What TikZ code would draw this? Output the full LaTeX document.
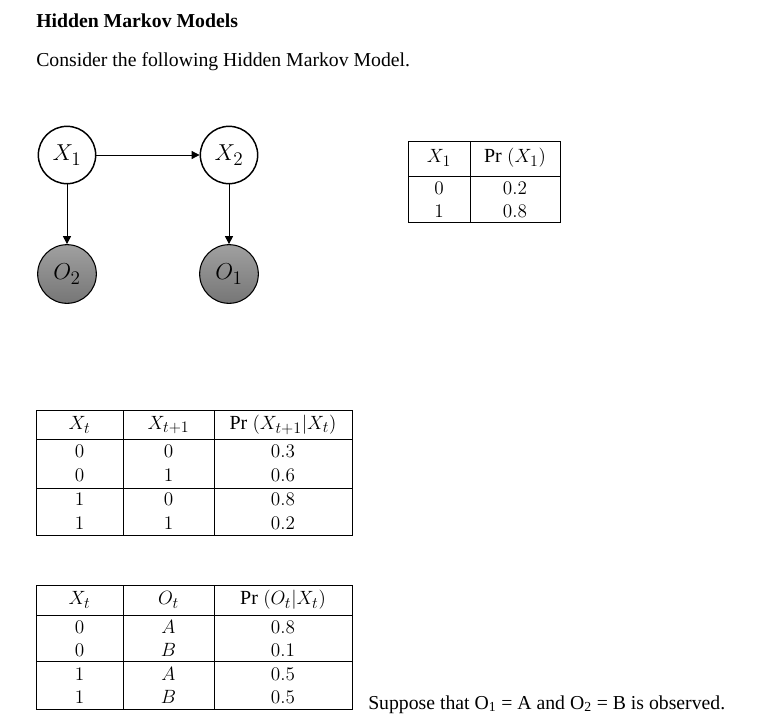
\documentclass[tikz,border=0pt]{standalone}
\usepackage{fontspec}
\setmainfont{Liberation Serif}
\usetikzlibrary{arrows.meta}
\DeclareMathSizes{15}{15}{12.5}{10}
\DeclareMathSizes{17}{17}{14}{11}
\begin{document}
\begin{tikzpicture}[x=0.75pt,y=-0.75pt,
  hidden/.style={circle,draw,line width=1.1pt,fill=white,minimum size=43pt,inner sep=0pt,font=\fontsize{17}{19}\selectfont},
  observed/.style={circle,draw,line width=0.8pt,top color={rgb,255:red,160;green,160;blue,160},bottom color={rgb,255:red,118;green,118;blue,118},minimum size=44pt,inner sep=0pt,font=\fontsize{17}{19}\selectfont},
  edge/.style={-{Triangle[length=6pt,width=6pt]},line width=0.6pt},
  tline/.style={line width=0.75pt},
  cell/.style={inner sep=0pt,font=\fontsize{15}{17}\selectfont},
  txt/.style={inner sep=0pt,anchor=base west,font=\fontsize{14.8}{17}\selectfont}]
\useasboundingbox (0,0) rectangle (774,722);
% heading
\node[txt,font=\fontsize{14.8}{17}\selectfont\bfseries] (title) at (36,27) {Hidden Markov Models};
\node[txt] (intro) at (36,66) {Consider the following Hidden Markov Model.};
% graph
\node[hidden] (x1) at (67,155) {$X_1$};
\node[hidden] (x2) at (229,155) {$X_2$};
\node[observed] (o2) at (67,274) {$O_2$};
\node[observed] (o1) at (229,274) {$O_1$};
\draw[edge] (x1) -- (x2);
\draw[edge] (x1) -- (o2);
\draw[edge] (x2) -- (o1);
% table 1
\draw[tline] (408,141) rectangle (560,222);
\draw[tline] (408,176) -- (560,176);
\draw[tline] (470,141) -- (470,222);
\node[cell] (t1h1) at (439,158) {$X_1$};
\node[cell] (t1h2) at (515,158) {$\mathrm{Pr}\;(X_1)$};
\node[cell] (t1a1) at (439,188) {$0$};
\node[cell] (t1a2) at (515,188) {$0.2$};
\node[cell] (t1b1) at (439,211) {$1$};
\node[cell] (t1b2) at (515,211) {$0.8$};
% table 2
\draw[tline] (36,410) rectangle (352,535);
\draw[tline] (36,439) -- (352,439);
\draw[tline] (36,488) -- (352,488);
\draw[tline] (123,410) -- (123,535);
\draw[tline] (214,410) -- (214,535);
\node[cell] (t2h1) at (79.5,425) {$X_t$};
\node[cell] (t2h2) at (168.5,425) {$X_{t+1}$};
\node[cell] (t2h3) at (283,425) {$\mathrm{Pr}\;(X_{t+1}|X_t)$};
\node[cell] (t2a1) at (79.5,451) {$0$};
\node[cell] (t2a2) at (168.5,451) {$0$};
\node[cell] (t2a3) at (283,451) {$0.3$};
\node[cell] (t2b1) at (79.5,475) {$0$};
\node[cell] (t2b2) at (168.5,475) {$1$};
\node[cell] (t2b3) at (283,475) {$0.6$};
\node[cell] (t2c1) at (79.5,499) {$1$};
\node[cell] (t2c2) at (168.5,499) {$0$};
\node[cell] (t2c3) at (283,499) {$0.8$};
\node[cell] (t2d1) at (79.5,523) {$1$};
\node[cell] (t2d2) at (168.5,523) {$1$};
\node[cell] (t2d3) at (283,523) {$0.2$};
% table 3
\draw[tline] (36,585) rectangle (352,709);
\draw[tline] (36,615) -- (352,615);
\draw[tline] (36,661) -- (352,661);
\draw[tline] (123,585) -- (123,709);
\draw[tline] (214,585) -- (214,709);
\node[cell] (t3h1) at (79.5,600) {$X_t$};
\node[cell] (t3h2) at (168.5,600) {$O_t$};
\node[cell] (t3h3) at (283,600) {$\mathrm{Pr}\;(O_t|X_t)$};
\node[cell] (t3a1) at (79.5,627) {$0$};
\node[cell] (t3a2) at (168.5,627) {$A$};
\node[cell] (t3a3) at (283,627) {$0.8$};
\node[cell] (t3b1) at (79.5,650) {$0$};
\node[cell] (t3b2) at (168.5,650) {$B$};
\node[cell] (t3b3) at (283,650) {$0.1$};
\node[cell] (t3c1) at (79.5,674) {$1$};
\node[cell] (t3c2) at (168.5,674) {$A$};
\node[cell] (t3c3) at (283,674) {$0.5$};
\node[cell] (t3d1) at (79.5,697) {$1$};
\node[cell] (t3d2) at (168.5,697) {$B$};
\node[cell] (t3d3) at (283,697) {$0.5$};
% final sentence
\node[txt] (obs) at (368,709) {Suppose that O\textsubscript{1} = A and O\textsubscript{2} = B is observed.};
\end{tikzpicture}
\end{document}
